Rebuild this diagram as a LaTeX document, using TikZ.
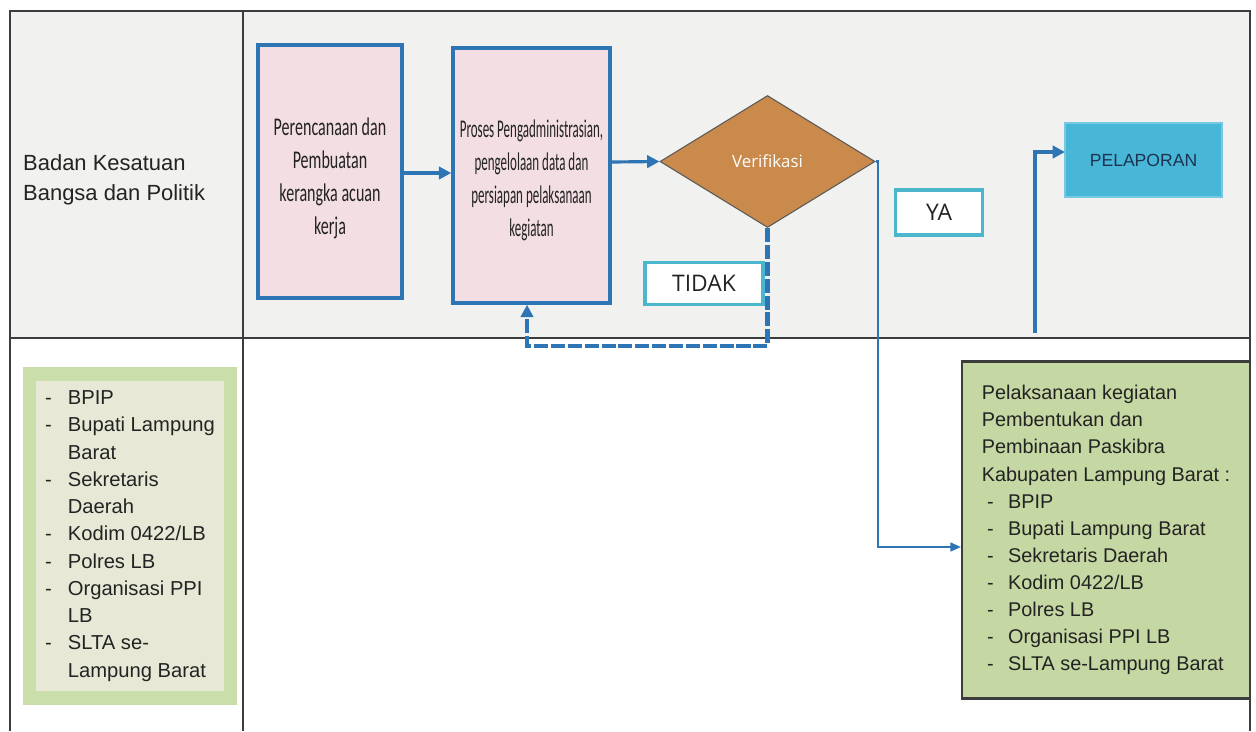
\documentclass[tikz,border=0pt]{standalone}
\usepackage{fontspec}
\setmainfont{Liberation Sans}
\newfontfamily\condA[FakeStretch=0.63]{Carlito}
\newfontfamily\condB[FakeStretch=0.51]{Carlito}
\newfontfamily\osans{Open Sans}
\usetikzlibrary{shapes.geometric,arrows.meta,calc}
\definecolor{fblue}{RGB}{46,117,182}
\definecolor{pinkfill}{RGB}{243,222,227}
\definecolor{bggray}{RGB}{241,241,239}
\definecolor{diafill}{RGB}{201,138,76}
\definecolor{cyanb}{RGB}{75,183,204}
\definecolor{pelfill}{RGB}{72,182,214}
\definecolor{pelborder}{RGB}{120,200,225}
\definecolor{grnfill}{RGB}{197,215,162}
\definecolor{lgrnfill}{RGB}{231,233,214}
\definecolor{lgrnborder}{RGB}{202,222,170}
\definecolor{framec}{RGB}{60,60,60}
\definecolor{txtdark}{RGB}{35,35,35}
\newcommand\pxx[1]{#1*0.02cm}
\newcommand\itm[1]{\makebox[13pt][l]{-}#1}
\newcommand\itmc{\hspace*{13pt}}
\newcommand\ritm[1]{\hspace*{3pt}\makebox[12pt][l]{-}#1}
\newcommand\lowered[2]{\raisebox{#1}[0pt][0pt]{\begin{tabular}{@{}c@{}}#2\end{tabular}}}
\begin{document}
\begin{tikzpicture}[x=0.02cm,y=-0.02cm,
  pbox/.style={draw=fblue,line width=2pt,fill=pinkfill,inner sep=0pt,align=center,text=txtdark},
  lbl/.style={draw=cyanb,line width=1.8pt,fill=white,inner sep=0pt,font=\osans\fontsize{13}{15}\selectfont,text=txtdark},
  arr/.style={draw=fblue,line width=1.8pt,-{Triangle[length=7pt,width=7pt]}},
  thinarr/.style={draw=fblue,line width=1.2pt,-{Triangle[length=6pt,width=5pt]}},
  dashline/.style={draw=fblue,line width=2.8pt,dash pattern=on 8pt off 1.6pt},
  frameline/.style={draw=framec,line width=0.8pt}]
\useasboundingbox (0,0) rectangle (1256,731);
\fill[white] (0,0) rectangle (1256,731);
\fill[bggray] (10,11) rectangle (1250,338);
% frame
\draw[frameline] (10,731) -- (10,11);
\draw[draw=framec,line width=1.5pt] (9,11) -- (1251,11);
\draw[frameline] (1250,11) -- (1250,731);
\draw[frameline] (243,11) -- (243,731);
\draw[frameline] (10,338) -- (1250,338);
% lane label
\node[anchor=west,align=left,font=\fontsize{12.5}{17}\selectfont,text=txtdark] (lane) at (17,180)
  {Badan Kesatuan\\Bangsa dan Politik};
% boxes
\node[pbox,minimum width=\pxx{144},minimum height=\pxx{253},font=\condA\fontsize{14.5}{18.7}\selectfont] (b1) at (330,171.5)
  {\lowered{-7.5pt}{Perencanaan dan\\Pembuatan\\kerangka acuan\\kerja}};
\node[pbox,minimum width=\pxx{157},minimum height=\pxx{255},font=\condB\fontsize{14.5}{18.7}\selectfont] (b2) at (531.5,175.5)
  {\lowered{-6.5pt}{Proses Pengadministrasian,\\pengelolaan data dan\\persiapan pelaksanaan\\kegiatan}};
\node[diamond,fill=diafill,draw=gray!70!black,line width=0.6pt,inner sep=0pt,minimum width=\pxx{215},minimum height=\pxx{132},
  text=white,font=\osans\fontsize{9.6}{11}\selectfont] (dia) at (767.5,161.5) {Verifikasi};
\node[lbl,minimum width=\pxx{118},minimum height=\pxx{42}] (tidak) at (704,283.5) {TIDAK};
\node[lbl,minimum width=\pxx{87},minimum height=\pxx{45}] (ya) at (939,212.5) {YA};
\node[draw=pelborder,line width=0.8pt,fill=pelfill,inner sep=0pt,minimum width=\pxx{157},minimum height=\pxx{74},
  font=\fontsize{10}{12}\selectfont,text={rgb,255:red,30;green,50;blue,80}] (pel) at (1143.5,160) {PELAPORAN};
% green boxes
\node[draw=lgrnborder,line width=7.5pt,fill=lgrnfill,inner sep=0pt,minimum width=\pxx{201},minimum height=\pxx{324},
  align=left,text=txtdark,font=\fontsize{11.5}{15.5}\selectfont] (lg) at (130,536)
  {\itm{BPIP}\\\itm{Bupati Lampung}\\\itmc Barat\\\itm{Sekretaris}\\\itmc Daerah\\\itm{Kodim 0422/LB}\\\itm{Polres LB}\\\itm{Organisasi PPI}\\\itmc LB\\\itm{SLTA se-}\\\itmc Lampung Barat};
\node[draw=framec,line width=1.2pt,fill=grnfill,inner sep=0pt,minimum width=\pxx{288},minimum height=\pxx{337},
  align=left,text=txtdark,font=\fontsize{11.3}{15.4}\selectfont] (rg) at (1106,530)
  {Pelaksanaan kegiatan\\Pembentukan dan\\Pembinaan Paskibra\\Kabupaten Lampung Barat :\\
   \ritm{BPIP}\\\ritm{Bupati Lampung Barat}\\\ritm{Sekretaris Daerah}\\\ritm{Kodim 0422/LB}\\
   \ritm{Polres LB}\\\ritm{Organisasi PPI LB}\\\ritm{SLTA se-Lampung Barat}};
% connectors
\draw[arr] (b1.east |- 0,173) -- (b2.west |- 0,173);
\draw[arr] (b2.east |- 0,162) -- (dia.west);
\coordinate (d1) at (770,346);
\coordinate (d2) at (527,346);
\draw[dashline,-{Triangle[length=7pt,width=7pt]}] (dia.south) -- (dia.south |- d1) -- (d2) -- (d2 |- b2.south);
\coordinate (c1) at (878,547);
\draw[thinarr] (dia.east) -| (c1) -- (rg.west |- c1);
\coordinate (ys) at (1035,333);
\coordinate (yp) at (1065,152);
\draw[arr] (ys) |- (yp);
\end{tikzpicture}
\end{document}
